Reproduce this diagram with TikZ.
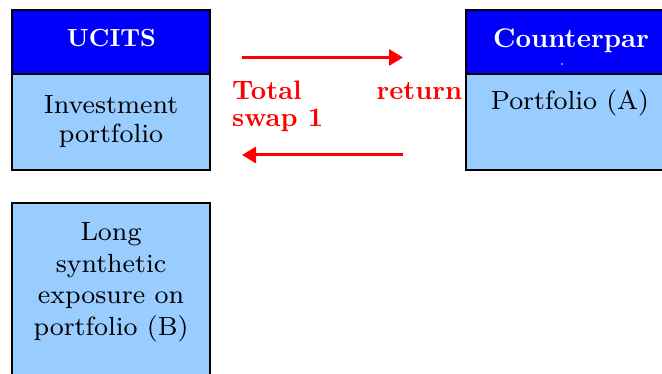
\documentclass[tikz,border=0pt]{standalone}
\usepackage{graphicx}
\usetikzlibrary{arrows.meta}
\definecolor{hdrblue}{RGB}{0,0,250}
\definecolor{bodyblue}{RGB}{153,204,255}
\definecolor{arrred}{RGB}{255,0,0}
\newcommand\ctrlines[1]{\vtop{\halign{\hfil##\hfil\cr#1\crcr}}}
\newcommand\rmbig[2]{\scalebox{3.29}{\fontsize{8}{#1}\selectfont #2}}
\begin{document}
\begin{tikzpicture}[x=1pt,y=-1pt,
  boxbase/.style={draw=black,line width=1.5pt,inner sep=0pt,outer sep=0pt},
  hdr/.style={boxbase,fill=hdrblue},
  bodybox/.style={boxbase,fill=bodyblue},
  plaintext/.style={inner sep=0pt,anchor=base},
  swaparrow/.style={draw=arrred,line width=3pt,-{Triangle[length=14pt,width=16pt]}}
]
\path[use as bounding box,fill=white] (0,0) rectangle (662,374);
% UCITS
\node[hdr,minimum width=198pt,minimum height=64pt] (uh) at (111,42) {};
\node[bodybox,minimum width=198pt,minimum height=96pt] (ub) at (111,122) {};
\node[plaintext,text=white] (uhtext) at (111.5,46.5) {\scalebox{2.48}{\fontsize{10}{12}\selectfont\bfseries UCITS}};
\node[plaintext] (ubtext) at (111,113.3) {\rmbig{8.94}{\ctrlines{Investment\cr portfolio}}};
% Counterparty
\node[hdr,minimum width=210pt,minimum height=64pt] (ch) at (571,42) {};
\node[bodybox,minimum width=210pt,minimum height=96pt] (cb) at (571,122) {};
\node[plaintext,text=white] (chtext) at (571,47.5) {\scalebox{2.7}{\fontsize{10}{12}\selectfont\bfseries Counterpar}};
\node[fill=white,circle,inner sep=0pt,minimum size=1.8pt] (chdot) at (562,64) {};
\node[plaintext] (cbtext) at (570,110) {\rmbig{8.94}{Portfolio (A)}};
% Long synthetic
\node[bodybox,minimum width=198pt,minimum height=190pt] (lb) at (111,298) {};
\node[plaintext] (lbtext) at (111,240.5) {\rmbig{9.64}{\ctrlines{Long\cr synthetic\cr exposure on\cr portfolio (B)}}};
% Swap arrows
\coordinate (t1) at (242,57.5);
\coordinate (t2) at (403,57.5);
\coordinate (b1) at (403,155);
\coordinate (b2) at (242,155);
\draw[swaparrow] (t1) -- (t2);
\draw[swaparrow] (b1) -- (b2);
\node[plaintext,anchor=base west,text=arrred] (swaplabel) at (232,100) {\scalebox{2.67}{\fontsize{10}{10.1}\selectfont\bfseries\vtop{\hbox to 86.1pt{Total\hfill return}\hbox{swap 1}}}};
\end{tikzpicture}
\end{document}
